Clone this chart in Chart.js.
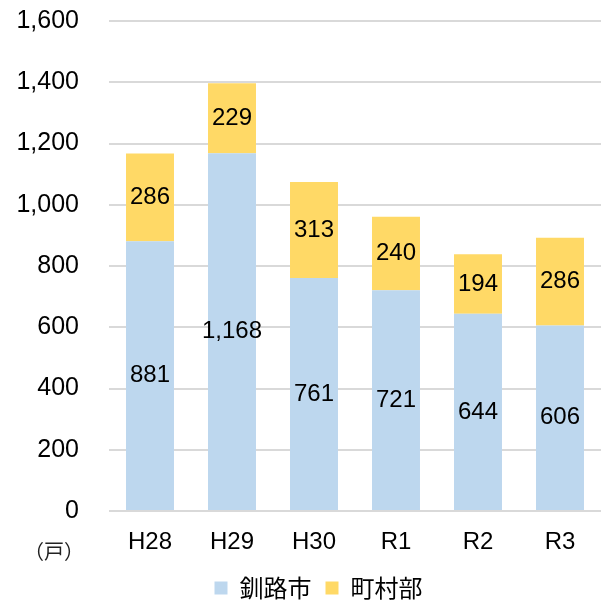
<!DOCTYPE html>
<html>
<head>
<meta charset="utf-8">
<script src="https://cdn.jsdelivr.net/npm/chart.js@4/dist/chart.umd.min.js"></script>
<style>
  html, body { margin: 0; padding: 0; background: #fff; }
  #wrap { width: 606px; height: 606px; }
</style>
</head>
<body>
<div id="wrap"><canvas id="myChart"></canvas></div>
<script>
var labels = ['H28', 'H29', 'H30', 'R1', 'R2', 'R3'];
var kushiro = [881, 1168, 761, 721, 644, 606];
var chouson = [286, 229, 313, 240, 194, 286];
var yMax = 1600;
var yStep = 200;

// 棒の中央に値を描く
const valueLabels = {
  id: 'valueLabels',
  beforeLayout(chart) {
    // 凡例の高さを少し詰める
    const lg = chart.legend;
    if (lg && !lg._patched) {
      const fit = lg.fit.bind(lg);
      lg.fit = function () { fit(); this.height -= 4; };
      lg._patched = true;
    }
  },
  afterLayout(chart) {
    // 凡例を少し右へ
    chart.legend.left += 18;
    chart.legend.right += 18;
  },
  afterDatasetsDraw(chart) {
    const ctx = chart.ctx;
    ctx.save();
    ctx.font = '24px "Liberation Sans", Arial, sans-serif';
    ctx.fillStyle = '#000';
    ctx.textAlign = 'center';
    ctx.textBaseline = 'middle';
    chart.data.datasets.forEach((ds, i) => {
      const meta = chart.getDatasetMeta(i);
      meta.data.forEach((bar, j) => {
        const mid = (bar.y + bar.base) / 2;
        ctx.fillText(ds.data[j].toLocaleString('en-US'), bar.x, mid);
      });
    });
    // 単位
    ctx.font = '20px "Noto Sans CJK JP", sans-serif';
    ctx.fillStyle = '#222';
    ctx.fillText('（戸）', 54, 551);
    ctx.restore();
  },
};

new Chart(document.getElementById('myChart'), {
  type: 'bar',
  data: {
    labels: labels,
    datasets: [
      {
        label: '釧路市',
        data: kushiro,
        backgroundColor: '#BDD7EE',
        categoryPercentage: 1.0,
        barPercentage: 0.585,
      },
      {
        label: '町村部',
        data: chouson,
        backgroundColor: '#FFD966',
        categoryPercentage: 1.0,
        barPercentage: 0.585,
      },
    ],
  },
  options: {
    responsive: true,
    maintainAspectRatio: false,
    animation: false,
    layout: { padding: { top: 0, right: 5, bottom: 0, left: 0 } },
    scales: {
      x: {
        stacked: true,
        afterFit(scale) { scale.height = 51; },
        grid: { display: false, drawTicks: false },
        border: { display: false },
        ticks: {
          color: '#000',
          padding: 17,
          font: { family: '"Liberation Sans", Arial, sans-serif', size: 24 },
        },
      },
      y: {
        stacked: true,
        min: 0,
        max: yMax,
        afterFit(scale) {
          scale.width = 109;
          scale.paddingTop = 21;
          scale.paddingBottom = 0;
        },
        grid: { color: '#D9D9D9', lineWidth: 2, drawTicks: false },
        border: { display: false },
        ticks: {
          stepSize: yStep,
          color: '#000',
          padding: 30,
          font: { family: '"Liberation Sans", Arial, sans-serif', size: 25 },
          callback: (v) => v.toLocaleString('en-US'),
        },
      },
    },
    plugins: {
      legend: {
        position: 'bottom',
        labels: {
          color: '#000',
          boxWidth: 13,
          boxHeight: 13,
          padding: 14,
          font: { family: '"Noto Sans CJK JP", sans-serif', size: 24 },
        },
      },
      tooltip: { enabled: false },
    },
  },
  plugins: [valueLabels],
});
</script>
</body>
</html>
